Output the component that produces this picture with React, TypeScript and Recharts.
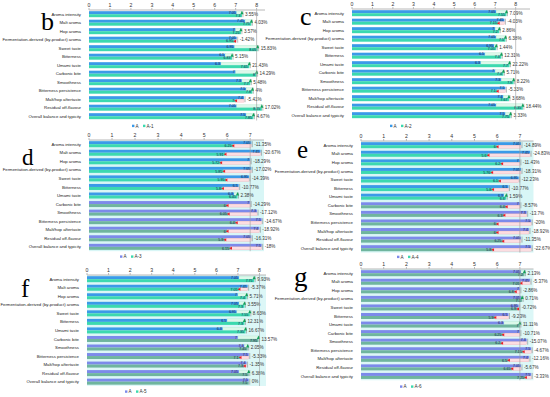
import React from "react";
import { BarChart, Bar, XAxis, YAxis, CartesianGrid, ReferenceLine } from "recharts";

const categories = [
  "Aroma intensity",
  "Malt aroma",
  "Hop aroma",
  "Fermentation-derived (by-product) aroma",
  "Sweet taste",
  "Bitterness",
  "Umami taste",
  "Carbonic bite",
  "Smoothness",
  "Bitterness persistence",
  "Malt/hop aftertaste",
  "Residual off-flavour",
  "Overall balance and typicity",
];

// reference sample A (same in every panel)
const baseA = [7.05, 7.45, 7, 7.05, 6.95, 6.5, 6.3, 7, 7.3, 7.5, 7.4, 7.05, 7.5];

const a1 = [7.3, 7.75, 7.25, 6.95, 8.05, 6.83, 7.65, 8, 7.7, 7.8, 7, 8.25, 7.85];
const a1Pct = ["3.55%", "4.03%", "3.57%", "-1.42%", "15.83%", "5.15%", "21.43%", "14.29%", "5.48%", "4%", "-5.41%", "17.02%", "4.67%"];

const a2 = [7.55, 7.15, 7.2, 7.5, 7.05, 7.3, 7.7, 7.4, 7.9, 7.1, 7.67, 8.35, 7.75];
const a2Pct = ["7.09%", "-4.03%", "2.86%", "6.38%", "1.44%", "12.31%", "22.22%", "5.71%", "8.22%", "-5.33%", "3.68%", "18.44%", "3.33%"];

const a3 = [6.25, 5.91, 5.72, 5.85, 5.95, 5.8, 6.45, 6, 6.05, 6.4, 6, 5.9, 6.15];
const a3Pct = ["-11.35%", "-20.67%", "-18.29%", "-17.02%", "-14.39%", "-10.77%", "2.38%", "-14.29%", "-17.12%", "-14.67%", "-18.92%", "-16.31%", "-18%"];

const a4 = [6, 5.6, 6.2, 5.76, 6.1, 5.8, 6.4, 6.4, 6.3, 6, 6, 6.25, 5.8];
const a4Pct = ["-14.89%", "-24.83%", "-11.43%", "-18.31%", "-12.23%", "-10.77%", "1.59%", "-8.57%", "-13.7%", "-20%", "-18.92%", "-11.35%", "-22.67%"];

const a5 = [7.75, 7.05, 7.4, 7.3, 7.55, 7.3, 7.35, 7.95, 7.45, 7.1, 7.3, 7.5, 7.5];
const a5Pct = ["9.93%", "-5.37%", "5.71%", "3.55%", "8.63%", "12.31%", "16.67%", "13.57%", "2.05%", "-5.33%", "-1.35%", "6.38%", "0%"];

const a6 = [7.2, 7.05, 6.8, 7.1, 6.9, 5.9, 7, 6.25, 6.2, 7.15, 6.5, 6.65, 7.25];
const a6Pct = ["2.13%", "-5.37%", "-2.86%", "0.71%", "-0.72%", "-9.23%", "11.11%", "-10.71%", "-15.07%", "-4.67%", "-12.16%", "-5.67%", "-3.33%"];

const ticks8 = [0, 1, 2, 3, 4, 5, 6, 7, 8];
const ticks7 = [0, 1, 2, 3, 4, 5, 6, 7];

const BLUE = "#3b9ae8";
const TEAL = "#3cd9af";
const PURPLE = "#7c8aea";
const GREYGREEN = "#6fb59e";
const FONT = "Liberation Sans, Arial, sans-serif";

type Panel = {
  letter: string;
  series: string;
  values: number[];
  pct: string[];
  ticks: number[];
  left: number;
  plotTop: number;
  plotBottom: number;
  yw: number;
  plotW: number;
  domainMax: number;
  bg: string;
  purpleFrom: number;
  legendX: number;
  legendY: number;
  letterX: number;
  letterY: number;
  letterSize: number;
};

const panels: Panel[] = [
  { letter: "b", series: "A-1", values: a1, pct: a1Pct, ticks: ticks8, left: 0, plotTop: 9.75, plotBottom: 120.25, yw: 89, plotW: 176, domainMax: 8.4, bg: "#ffffff", purpleFrom: 13, legendX: 147, legendY: 126, letterX: 41, letterY: 30, letterSize: 26 },
  { letter: "c", series: "A-2", values: a2, pct: a2Pct, ticks: ticks8, left: 262, plotTop: 9.25, plotBottom: 119.75, yw: 90, plotW: 178, domainMax: 8.7, bg: "#ffffff", purpleFrom: 13, legendX: 405, legendY: 126, letterX: 300, letterY: 25, letterSize: 26 },
  { letter: "d", series: "A-3", values: a3, pct: a3Pct, ticks: ticks7, left: 0, plotTop: 140.4, plotBottom: 251.6, yw: 89, plotW: 175, domainMax: 7.6, bg: "#d8f6f6", purpleFrom: 7, legendX: 135, legendY: 256.7, letterX: 22, letterY: 165, letterSize: 23 },
  { letter: "e", series: "A-4", values: a4, pct: a4Pct, ticks: ticks7, left: 270, plotTop: 141, plotBottom: 252.6, yw: 91, plotW: 172.5, domainMax: 7.6, bg: "#d8f6f6", purpleFrom: 7, legendX: 412, legendY: 257, letterX: 297, letterY: 158, letterSize: 25 },
  { letter: "f", series: "A-5", values: a5, pct: a5Pct, ticks: ticks8, left: 0, plotTop: 275, plotBottom: 386, yw: 87, plotW: 179, domainMax: 8.3, bg: "#dcf7f7", purpleFrom: 7, legendX: 140, legendY: 391.7, letterX: 21, letterY: 297, letterSize: 25 },
  { letter: "g", series: "A-6", values: a6, pct: a6Pct, ticks: ticks7, left: 270, plotTop: 269, plotBottom: 380.3, yw: 91, plotW: 172.5, domainMax: 7.6, bg: "#dcf7f7", purpleFrom: 0, legendX: 415, legendY: 386.7, letterX: 294, letterY: 286, letterSize: 27 },
];

const AXIS_H = 10;
const RIGHT = 32;

const CategoryTick = (p: any) => (
  <text x={p.x} y={p.y + 1.5} textAnchor="end" fontSize={4.3} fill="#222" fontFamily={FONT}>
    {p.payload.value}
  </text>
);

function ChartPanel({ cfg }: { cfg: Panel }) {
  const rows = categories.map((name, i) => ({ i, name, A: baseA[i], N: cfg.values[i], pct: cfg.pct[i] }));
  const width = cfg.yw + cfg.plotW + RIGHT;
  const height = AXIS_H + (cfg.plotBottom - cfg.plotTop) + 2;
  const top = cfg.plotTop - AXIS_H;

  const aShape = (p: any) => {
    const purple = p.payload.i >= cfg.purpleFrom;
    return <rect x={p.x} y={p.y} width={Math.max(p.width, 0)} height={p.height} fill={purple ? PURPLE : BLUE} />;
  };

  const nShape = (p: any) => {
    const { x, y, width, height, payload } = p;
    const purple = payload.i >= cfg.purpleFrom;
    const unit = width / payload.N;
    const aEnd = x + payload.A * unit;
    const nEnd = x + width;
    const up = payload.N >= payload.A;
    const h = height;
    const yTop = y - h;
    const far = Math.max(aEnd, nEnd);
    return (
      <g>
        {up ? (
          <rect x={aEnd} y={yTop} width={nEnd - aEnd} height={h} fill="#dcf8ea" stroke="#a6e4c6" strokeWidth={0.3} />
        ) : (
          <rect x={nEnd} y={y} width={aEnd - nEnd} height={h} fill="#fcdde1" stroke="#f0a3ab" strokeWidth={0.3} />
        )}
        <rect x={x} y={y} width={width} height={h} fill={purple ? GREYGREEN : TEAL} />
        <line x1={far + 1} x2={far + 1} y1={yTop} y2={y + h} stroke="#555" strokeWidth={0.4} />
        {payload.N !== payload.A &&
          (up ? (
            <polygon points={`${nEnd - 1.6},${yTop + h} ${nEnd + 1.6},${yTop + h} ${nEnd},${yTop - 0.4}`} fill="#12a05a" />
          ) : (
            <polygon points={`${nEnd - 1.6},${y + h / 2} ${nEnd + 1.4},${y} ${nEnd + 1.4},${y + h}`} fill="#e8202a" />
          ))}
        <text x={aEnd - 1} y={yTop + h / 2 + 1.3} fontSize={3.6} textAnchor="end" fill="#14204a">
          {String(payload.A)}
        </text>
        <text x={nEnd - 1.5} y={y + h / 2 + 1.3} fontSize={3.6} textAnchor="end" fill="#14204a">
          {String(payload.N)}
        </text>
        <text x={far + 3} y={y + 1.6} fontSize={4.6} fill="#333">
          {payload.pct}
        </text>
      </g>
    );
  };

  return (
    <div style={{ position: "absolute", left: cfg.left, top }}>
      <BarChart
        width={width}
        height={height}
        data={rows}
        layout="vertical"
        margin={{ top: 0, right: RIGHT, bottom: 2, left: 0 }}
        barCategoryGap="14%"
        barGap={0}
        style={{ fontFamily: FONT, overflow: "visible" }}
      >
        <CartesianGrid horizontal={false} vertical={false} fill={cfg.bg} stroke="none" />
        <XAxis
          type="number"
          orientation="top"
          domain={[0, cfg.domainMax]}
          ticks={cfg.ticks}
          height={AXIS_H}
          tick={{ fontSize: 5.2, fill: "#333" }}
          tickSize={2}
          tickMargin={1}
          axisLine={{ stroke: "#b8b8b8" }}
          tickLine={{ stroke: "#b8b8b8" }}
        />
        <YAxis
          type="category"
          dataKey="name"
          width={cfg.yw}
          interval={0}
          tickLine={false}
          axisLine={false}
          tickMargin={2}
          tick={<CategoryTick />}
        />
        <ReferenceLine x={cfg.ticks[cfg.ticks.length - 1]} stroke="#9a9a9a" strokeWidth={0.6} />
        <Bar dataKey="A" shape={aShape} isAnimationActive={false} />
        <Bar dataKey="N" shape={nShape} isAnimationActive={false} />
      </BarChart>
    </div>
  );
}

export default function App() {
  return (
    <div style={{ position: "absolute", left: 0, top: 0, width: 550, height: 397, background: "#fff", overflow: "hidden" }}>
      {panels.map((p) => (
        <ChartPanel key={p.letter} cfg={p} />
      ))}
      <svg width={550} height={397} style={{ position: "absolute", left: 0, top: 0, pointerEvents: "none" }}>
        {panels.map((p) => {
          const aCol = p.purpleFrom < 13 ? PURPLE : BLUE;
          return (
            <g key={p.letter}>
              <text x={p.letterX} y={p.letterY} fontSize={p.letterSize} fontFamily="Liberation Serif, Times New Roman, serif">
                {p.letter}
              </text>
              <rect x={p.legendX - 15} y={p.legendY - 1.3} width={2.4} height={2.4} fill={aCol} />
              <text x={p.legendX - 11.5} y={p.legendY + 1.5} fontSize={4.6} fill="#333" fontFamily={FONT}>
                A
              </text>
              <rect x={p.legendX - 4} y={p.legendY - 1.3} width={2.4} height={2.4} fill={TEAL} />
              <text x={p.legendX - 0.5} y={p.legendY + 1.5} fontSize={4.6} fill="#333" fontFamily={FONT}>
                {p.series}
              </text>
            </g>
          );
        })}
      </svg>
    </div>
  );
}
